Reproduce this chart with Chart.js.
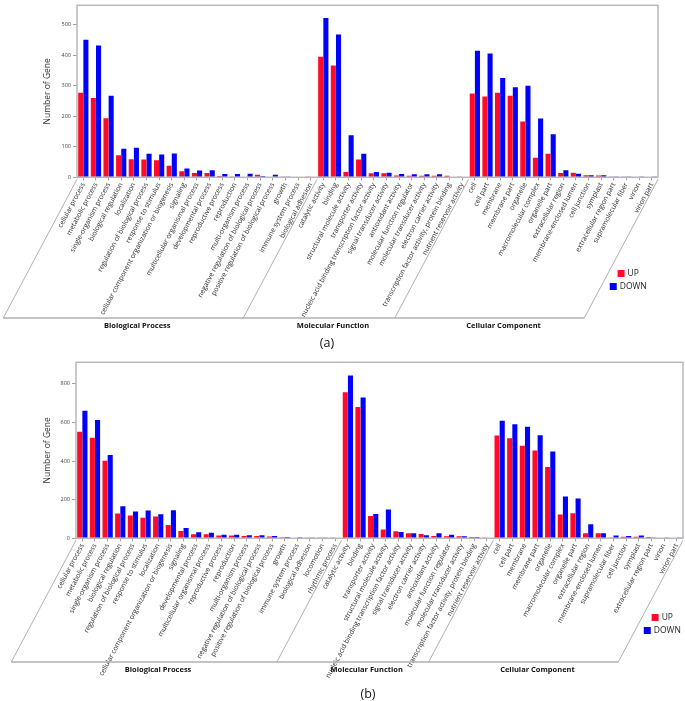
<!DOCTYPE html>
<html><head><meta charset="utf-8">
<script src="https://cdn.jsdelivr.net/npm/chart.js@4.4.0/dist/chart.umd.min.js"></script>
<style>
html,body{margin:0;padding:0;background:#fff;width:685px;height:701px;overflow:hidden;font-family:"Open Sans",sans-serif}
.wrap{position:absolute;left:0;width:685px}
.cap{position:absolute;font-size:12.5px;color:#111;transform:translate(-50%,-50%);white-space:nowrap}
</style></head><body>
<div class="wrap" style="top:0;height:340px"><canvas id="ca" width="685" height="340" style="width:685px;height:340px"></canvas></div>
<div class="wrap" style="top:345px;height:356px"><canvas id="cb" width="685" height="356" style="width:685px;height:356px"></canvas></div>
<div class="cap" style="left:327px;top:342px">(a)</div>
<div class="cap" style="left:368px;top:693px">(b)</div>
<script>
// ---------- data ----------
const groupNames = ['Biological Process', 'Molecular Function', 'Cellular Component'];
const seriesNames = ['UP', 'DOWN'];

// (a)
const bpTermsA = ['cellular process','metabolic process','single-organism process','biological regulation','localization','regulation of biological process','response to stimulus','cellular component organization or biogenesis','signaling','multicellular organismal process','developmental process','reproductive process','reproduction','multi-organism process','negative regulation of biological process','positive regulation of biological process','growth','immune system process','biological adhesion'];
const mfTermsA = ['catalytic activity','binding','structural molecule activity','transporter activity','nucleic acid binding transcription factor activity','signal transducer activity','antioxidant activity','molecular function regulator','molecular transducer activity','electron carrier activity','transcription factor activity, protein binding','nutrient reservoir activity'];
const ccTermsA = ['cell','cell part','membrane','membrane part','organelle','macromolecular complex','organelle part','extracellular region','membrane-enclosed lumen','cell junction','symplast','extracellular region part','supramolecular fiber','virion','virion part'];
const bpUpA   = [277, 260, 194, 72, 59, 58, 56, 38, 20, 14, 14, 4, 3, 0, 8, 0, 1, 0, 1];
const bpDownA = [451, 432, 267, 94, 97, 77, 75, 78, 29, 22, 23, 11, 11, 12, 4, 8, 1, 2, 0];
const mfUpA   = [395, 367, 17, 58, 13, 13, 6, 5, 5, 5, 5, 1];
const mfDownA = [522, 468, 138, 77, 17, 15, 11, 10, 10, 10, 2, 0];
const ccUpA   = [275, 265, 277, 267, 183, 64, 77, 14, 15, 7, 6, 1, 1, 0, 0];
const ccDownA = [415, 406, 326, 295, 300, 193, 141, 23, 12, 7, 7, 1, 3, 1, 1];
const yTickStepA = 100;

// (b)
const bpTermsB = ['cellular process','metabolic process','single-organism process','biological regulation','regulation of biological process','response to stimulus','localization','cellular component organization or biogenesis','signaling','developmental process','multicellular organismal process','reproductive process','reproduction','multi-organism process','negative regulation of biological process','positive regulation of biological process','growth','immune system process','biological adhesion','locomotion','rhythmic process'];
const mfTermsB = ['catalytic activity','binding','transporter activity','structural molecule activity','nucleic acid binding transcription factor activity','signal transducer activity','electron carrier activity','antioxidant activity','molecular function regulator','molecular transducer activity','transcription factor activity, protein binding','nutrient reservoir activity'];
const ccTermsB = ['cell','cell part','membrane','membrane part','organelle','macromolecular complex','organelle part','extracellular region','membrane-enclosed lumen','supramolecular fiber','cell junction','symplast','extracellular region part','virion','virion part'];
const bpUpB   = [552, 521, 402, 128, 118, 106, 113, 69, 38, 21, 21, 14, 14, 12, 12, 9, 5, 0, 1, 1, 1];
const bpDownB = [661, 613, 431, 166, 139, 144, 125, 145, 54, 31, 29, 19, 19, 16, 16, 12, 7, 5, 1, 1, 0];
const mfUpB   = [757, 681, 116, 45, 36, 26, 22, 12, 10, 10, 7, 1];
const mfDownB = [843, 729, 126, 149, 33, 26, 16, 26, 19, 10, 7, 0];
const ccUpB   = [533, 519, 480, 455, 370, 123, 130, 26, 26, 1, 8, 8, 7, 0, 0];
const ccDownB = [609, 591, 578, 534, 450, 217, 206, 73, 26, 15, 12, 14, 1, 1, 1];
const yTickStepB = 200;

// ---------- drawing ----------
const FONT = '"Open Sans", "Noto Sans", sans-serif';
const RED = '#ff0a2a', BLUE = '#0000ff';
const ANGLE = 62;

const decor = {
  id: 'decor',
  afterDraw(chart, args, o) {
    const {ctx, chartArea: a, scales: {x}} = chart;
    ctx.save();
    ctx.strokeStyle = '#b8b8b8'; ctx.lineWidth = 1.5;
    ctx.strokeRect(a.left, a.top, a.right - a.left, a.bottom - a.top);
    const cot = 1 / Math.tan(ANGLE * Math.PI / 180);
    const topY = a.bottom + 2, baseY = a.bottom + o.depth, dx = (baseY - topY) * cot;
    const bounds = [a.left];
    let k = 0;
    for (let g = 0; g < o.sizes.length - 1; g++) {
      k += o.sizes[g];
      bounds.push((x.getPixelForValue(k - 1) + x.getPixelForValue(k)) / 2);
    }
    bounds.push(a.right);
    ctx.strokeStyle = '#9a9a9a'; ctx.lineWidth = 0.8;
    ctx.beginPath();
    bounds.forEach(b => { ctx.moveTo(b, topY); ctx.lineTo(b - dx, baseY); });
    ctx.stroke();
    ctx.strokeStyle = '#b0b0b0'; ctx.lineWidth = 1.6;
    ctx.beginPath();
    ctx.moveTo(bounds[0] - dx, baseY); ctx.lineTo(bounds[bounds.length - 1] - dx, baseY);
    ctx.stroke();
    ctx.fillStyle = '#111'; ctx.font = 'bold 7.5px ' + FONT;
    ctx.textAlign = 'center'; ctx.textBaseline = 'middle';
    for (let g = 0; g < groupNames.length; g++) {
      ctx.fillText(groupNames[g], (bounds[g] + bounds[g + 1]) / 2 - dx + 14, baseY + 8);
    }
    // legend
    const lx = bounds[bounds.length - 1] - dx + 44;
    const ys = [baseY - 44.5, baseY - 31.5];
    const cols = [RED, BLUE];
    ctx.font = '8.5px ' + FONT; ctx.textAlign = 'left';
    seriesNames.forEach((n, i) => {
      const w = 7 + 3 + ctx.measureText(n).width;
      const sx = lx - w / 2;
      ctx.fillStyle = cols[i];
      ctx.fillRect(sx, ys[i] - 3.5, 7, 7);
      ctx.fillStyle = '#222';
      ctx.fillText(n, sx + 10, ys[i] + 0.5);
    });
    ctx.restore();
  }
};

function makeChart(id, labels, up, down, sizes, yMax, step, box, depth) {
  const canvas = document.getElementById(id);
  const H = canvas.height;
  return new Chart(canvas, {
    type: 'bar',
    data: {
      labels,
      datasets: [
        {label: seriesNames[0], data: up, backgroundColor: RED, borderWidth: 0, categoryPercentage: 0.82, barPercentage: 0.98},
        {label: seriesNames[1], data: down, backgroundColor: BLUE, borderWidth: 0, categoryPercentage: 0.82, barPercentage: 0.98}
      ]
    },
    options: {
      responsive: false, animation: false, devicePixelRatio: 1,
      layout: {autoPadding: false, padding: {left: 0, top: box.top, right: canvas.width - box.right, bottom: 0}},
      plugins: {legend: {display: false}, tooltip: {enabled: false}, decor: {sizes, depth}},
      scales: {
        x: {
          offset: true,
          grid: {display: true, drawOnChartArea: false, offset: false, tickLength: 3, color: '#888', tickWidth: 0.8},
          border: {display: false},
          ticks: {autoSkip: false, minRotation: ANGLE, maxRotation: ANGLE, padding: 1, color: '#2a2a2a', font: {family: FONT, size: 6.9}},
          afterFit: s => { s.height = H - box.bottom; }
        },
        y: {
          min: 0, max: yMax,
          grid: {display: true, drawOnChartArea: false, tickLength: 4, color: '#888', tickWidth: 0.8},
          border: {display: false},
          ticks: {stepSize: step, includeBounds: false, padding: 2, color: '#444', font: {family: FONT, size: 5.5}},
          title: {display: true, text: 'Number of Gene', color: '#333', font: {family: FONT, size: 8.5}, padding: {top: 42, bottom: 0}},
          afterFit: s => { s.width = box.left; }
        }
      }
    },
    plugins: [decor]
  });
}

makeChart('ca', [...bpTermsA, ...mfTermsA, ...ccTermsA], [...bpUpA, ...mfUpA, ...ccUpA], [...bpDownA, ...mfDownA, ...ccDownA],
  [bpTermsA.length, mfTermsA.length, ccTermsA.length], 564, yTickStepA, {left: 77, right: 658, top: 1.7, bottom: 177.3}, 140.7);
makeChart('cb', [...bpTermsB, ...mfTermsB, ...ccTermsB], [...bpUpB, ...mfUpB, ...ccUpB], [...bpDownB, ...mfDownB, ...ccDownB],
  [bpTermsB.length, mfTermsB.length, ccTermsB.length], 912, yTickStepB, {left: 76, right: 683, top: 17.3, bottom: 193.3}, 123.7);
</script>
</body></html>
